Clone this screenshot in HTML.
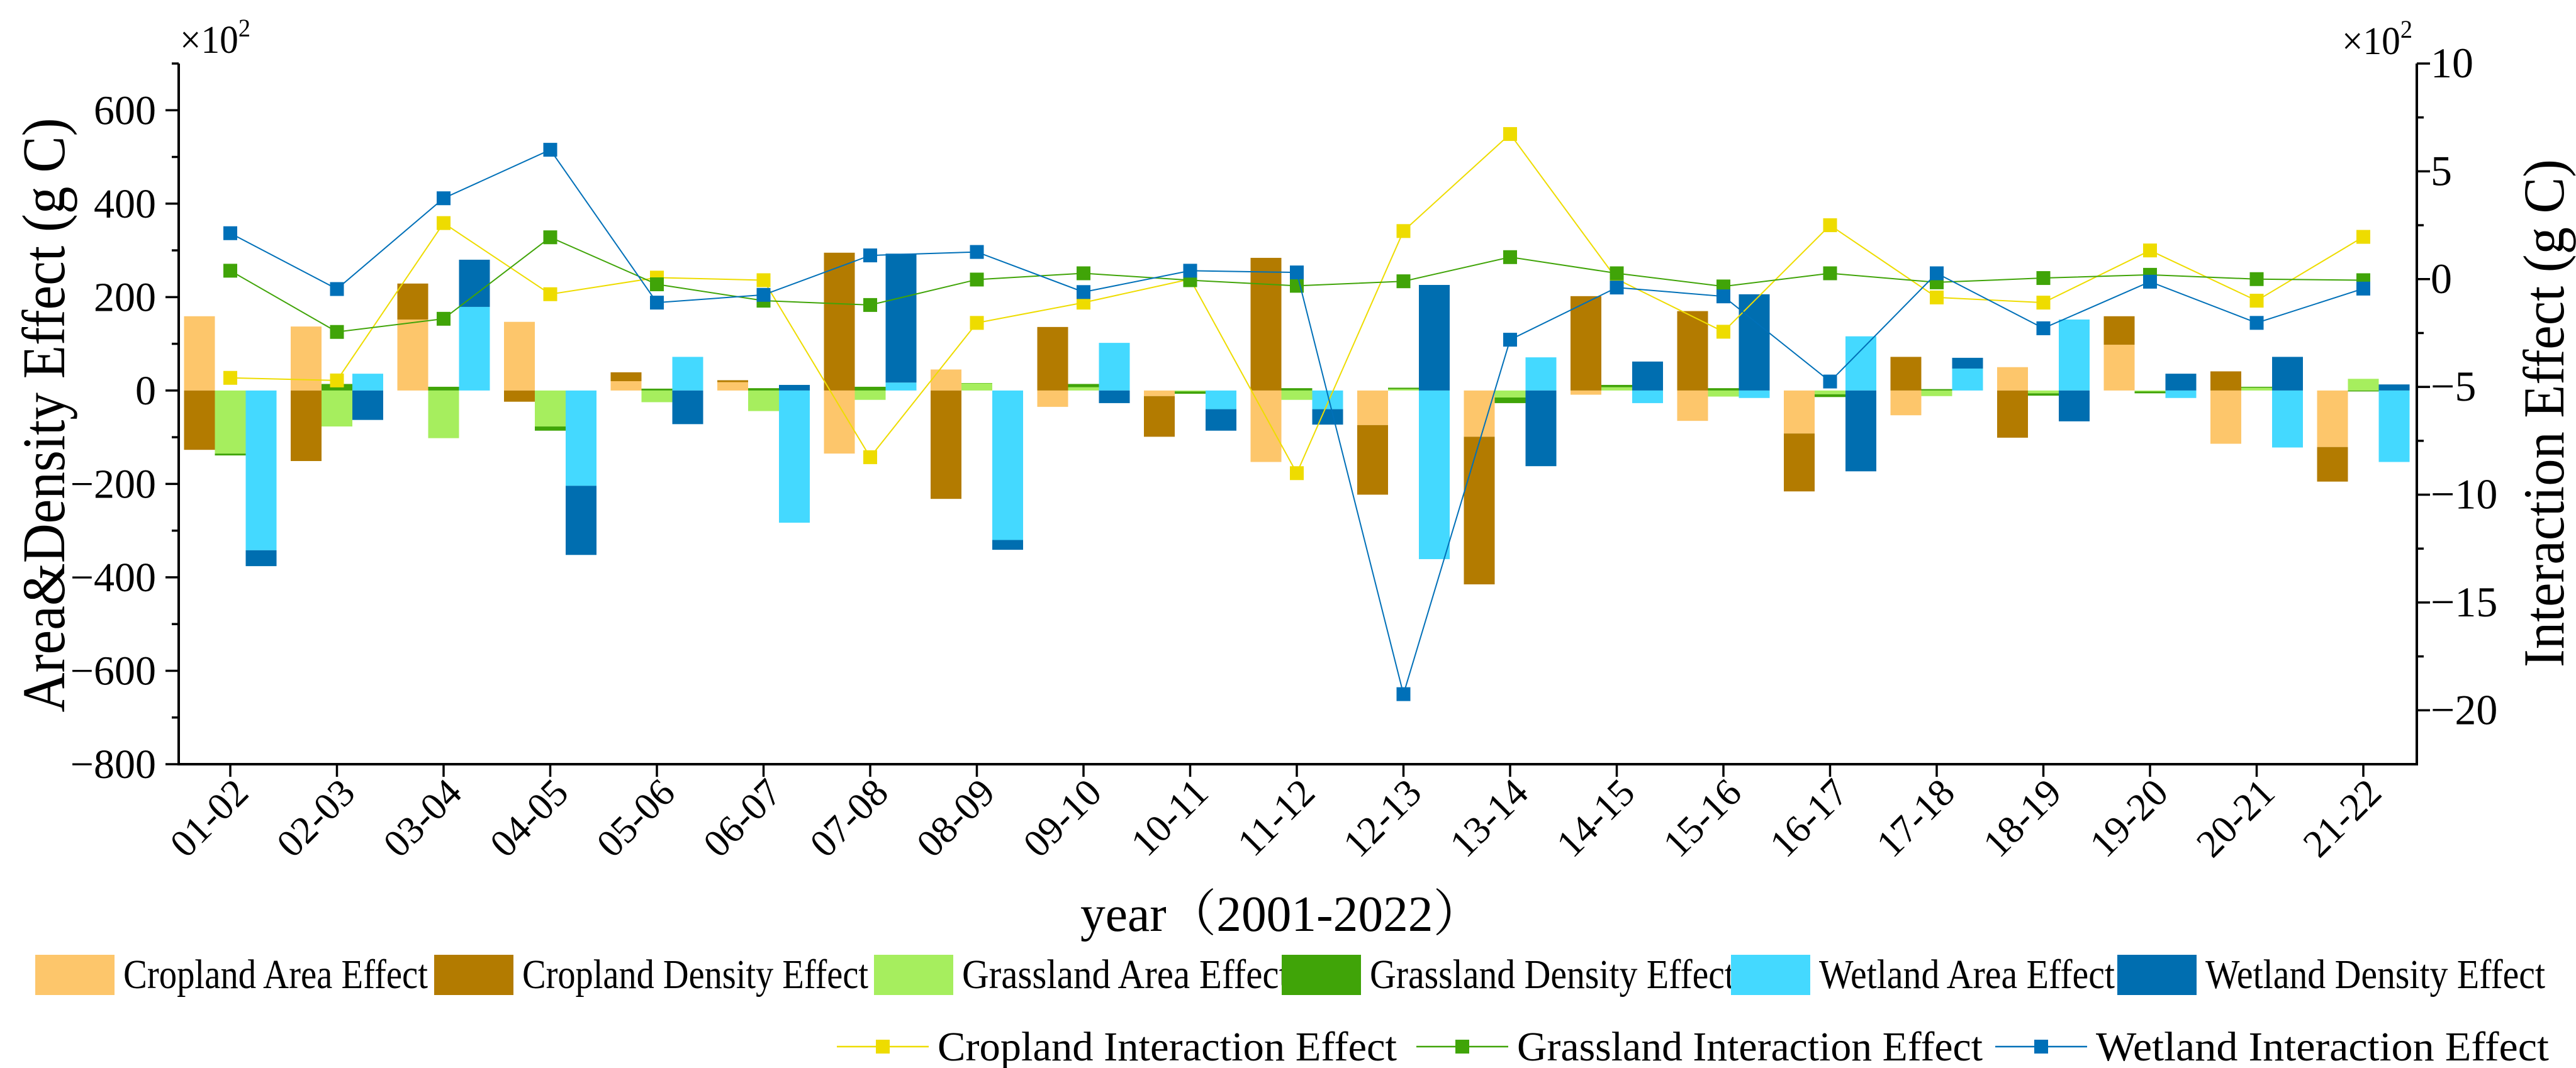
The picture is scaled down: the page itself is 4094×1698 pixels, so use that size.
<!DOCTYPE html>
<html><head><meta charset="utf-8"><style>
html,body{margin:0;padding:0;background:#fff;}
svg{display:block;}
svg text{font-family:"Liberation Serif","Noto Serif CJK SC",serif;}
</style></head><body>
<svg id="chart" width="4094" height="1698" viewBox="0 0 4094 1698" xmlns="http://www.w3.org/2000/svg">
<rect width="4094" height="1698" fill="#fff"/>
<g id="bars"></g>
<g id="lines"></g>
<g id="axes"></g>
<text x="286" y="84" font-size="62" textLength="112" lengthAdjust="spacingAndGlyphs">×10<tspan font-size="40" dy="-26">2</tspan></text>
<text x="3722" y="86" font-size="62" textLength="112" lengthAdjust="spacingAndGlyphs">×10<tspan font-size="40" dy="-26">2</tspan></text>
<text transform="translate(102,660) rotate(-90)" text-anchor="middle" font-size="96" textLength="945" lengthAdjust="spacingAndGlyphs">Area&amp;Density Effect (g C)</text>
<text transform="translate(4074,657) rotate(-90)" text-anchor="middle" font-size="92" textLength="808" lengthAdjust="spacingAndGlyphs">Interaction Effect (g C)</text>
<text x="2037" y="1480" text-anchor="middle" font-size="80" textLength="640" lengthAdjust="spacingAndGlyphs">year（2001-2022）</text>
<g id="legend"></g>
</svg>
<script>
const categories=["01-02","02-03","03-04","04-05","05-06","06-07","07-08","08-09","09-10","10-11","11-12","12-13","13-14","14-15","15-16","16-17","17-18","18-19","19-20","20-21","21-22"];
const cropArea=[159,137,152,147,20,18,-135,45,-35,-12,-153,-74,-99,-9,-65,-92,-53,50,98,-114,-121];
const cropDens=[-127,-151,77,-24,19,4,295,-232,136,-87,284,-149,-316,202,170,-124,72,-101,61,41,-74];
const grassArea=[-135,-77,-102,-77,-25,-44,-20,16,7,-2,-20,3,-15,7,-13,-8,-12,-6,-2,6,25];
const grassDens=[-4,14,8,-9,4,5,8,0,7,-5,5,3,-12,5,5,-6,3,-5,-4,2,-2];
const wetArea=[-342,36,179,-204,72,-283,17,-320,102,-40,-40,-361,71,-27,-16,116,47,152,-16,-122,-153];
const wetDens=[-34,-63,101,-148,-72,12,276,-21,-27,-46,-33,226,-162,62,206,-173,23,-66,36,72,13];
const cropInter=[-4.58,-4.7,2.6,-0.7,0.07,-0.05,-8.26,-2.03,-1.09,0.0,-9.0,2.23,6.73,0.0,-2.44,2.5,-0.85,-1.09,1.33,-1.0,1.96];
const grassInter=[0.39,-2.45,-1.84,1.94,-0.24,-1.0,-1.2,-0.02,0.27,-0.05,-0.31,-0.1,1.02,0.27,-0.34,0.27,-0.15,0.05,0.2,0,-0.05];
const wetInter=[2.13,-0.46,3.75,6.0,-1.09,-0.73,1.1,1.26,-0.6,0.39,0.31,-19.25,-2.81,-0.39,-0.8,-4.75,0.27,-2.28,-0.12,-2.03,-0.44];
const leftTicks=[-800,-600,-400,-200,0,200,400,600];
const rightTicks=[-20,-15,-10,-5,0,5,10];

const NS="http://www.w3.org/2000/svg";
const X0=284,X1=3841,YT=101,YB=1215;
const LMIN=-800,LMAX=700,RMIN=-22.5,RMAX=10;
function xCat(i){return 366+i*169.5;}
function yL(v){return YB-(v-LMIN)/(LMAX-LMIN)*(YB-YT);}
function yR(v){return YB-(v-RMIN)/(RMAX-RMIN)*(YB-YT);}
function mk(tag,attrs,parent){const e=document.createElementNS(NS,tag);for(const k in attrs)e.setAttribute(k,attrs[k]);parent.appendChild(e);return e;}
const C={ca:"#FDC66B",cd:"#B37B00",ga:"#A6EE5E",gd:"#40A408",wa:"#44D9FF",wd:"#006EB0",cl:"#EEDC00",gl:"#40A408",wl:"#0070B8"};

const bars=document.getElementById('bars');
const BW=49;
const groups=[["cropland",cropArea,cropDens,C.ca,C.cd,-49],["grassland",grassArea,grassDens,C.ga,C.gd,0],["wetland",wetArea,wetDens,C.wa,C.wd,49]];
groups.forEach(g=>{
  categories.forEach((c,i)=>{
    let pos=0,neg=0;
    [[g[1][i],g[3],"area"],[g[2][i],g[4],"density"]].forEach(s=>{
      const v=s[0];let a,b;
      if(v>=0){a=pos;b=pos+v;pos=b;}else{a=neg;b=neg+v;neg=b;}
      const y1=yL(Math.max(a,b)),y2=yL(Math.min(a,b));
      const r=mk('rect',{x:xCat(i)+g[5]-BW/2,y:y1,width:BW,height:Math.max(0.5,y2-y1),fill:s[1]},bars);
      
      
    });
  });
});

const lines=document.getElementById('lines');
[["cropland",cropInter,C.cl],["grassland",grassInter,C.gl],["wetland",wetInter,C.wl]].forEach(s=>{
  const pts=s[1].map((v,i)=>xCat(i)+','+yR(v)).join(' ');
  const pl=mk('polyline',{points:pts,fill:'none',stroke:s[2],'stroke-width':2},lines);
  
  
  s[1].forEach((v,i)=>{
    const r=mk('rect',{x:xCat(i)-11,y:yR(v)-11,width:22,height:22,fill:s[2]},lines);
    
    
  });
});

const ax=document.getElementById('axes');
mk('line',{x1:X0,y1:YT,x2:X0,y2:YB+2,stroke:'#000','stroke-width':4},ax);
mk('line',{x1:X1,y1:YT,x2:X1,y2:YB+2,stroke:'#000','stroke-width':4},ax);
mk('line',{x1:X0-2,y1:YB,x2:X1+2,y2:YB,stroke:'#000','stroke-width':4},ax);
for(let v=LMIN;v<=LMAX;v+=100){const major=v%200===0;mk('line',{x1:X0,x2:X0-(major?21:11),y1:yL(v),y2:yL(v),stroke:'#000','stroke-width':3.5},ax);}
leftTicks.forEach(v=>{const t=mk('text',{x:248,y:yL(v)+22,'text-anchor':'end','font-size':66},ax);t.textContent=(v<0?'−':'')+Math.abs(v);

});
for(let v=-20;v<=10;v+=2.5){const major=v%5===0;mk('line',{x1:X1,x2:X1+(major?21:11),y1:yR(v),y2:yR(v),stroke:'#000','stroke-width':3.5},ax);}
rightTicks.forEach(v=>{const t=mk('text',{x:3863,y:yR(v)+22,'font-size':68},ax);t.textContent=(v<0?'−':'')+Math.abs(v);

});
categories.forEach((c,i)=>{mk('line',{x1:xCat(i),x2:xCat(i),y1:YB,y2:YB+20,stroke:'#000','stroke-width':3.5},ax);
const t=mk('text',{transform:'translate('+(xCat(i)+32)+','+1264+') rotate(-45)','text-anchor':'end','font-size':62},ax);t.textContent=c;

});

const lg=document.getElementById('legend');
const barLeg=[["Cropland Area Effect",C.ca,56,484],["Cropland Density Effect",C.cd,690,550],["Grassland Area Effect",C.ga,1389,520],["Grassland Density Effect",C.gd,2037,580],["Wetland Area Effect",C.wa,2751,470],["Wetland Density Effect",C.wd,3365,540]];
barLeg.forEach(l=>{
  const r=mk('rect',{x:l[2],y:1518,width:126,height:64,fill:l[1]},lg);
  
  
  const t=mk('text',{x:l[2]+140,y:1571,'font-size':66,textLength:l[3],lengthAdjust:'spacingAndGlyphs'},lg);t.textContent=l[0];
  
  
});
const lineLeg=[["Cropland  Interaction Effect",C.cl,1330,730],["Grassland Interaction Effect",C.gl,2251,740],["Wetland Interaction Effect",C.wl,3171,720]];
lineLeg.forEach(l=>{
  mk('line',{x1:l[2],x2:l[2]+146,y1:1664,y2:1664,stroke:l[1],'stroke-width':2.5},lg);
  const r=mk('rect',{x:l[2]+62,y:1653,width:22,height:22,fill:l[1]},lg);
  
  
  const t=mk('text',{x:l[2]+160,y:1686,'font-size':66,textLength:l[3],lengthAdjust:'spacingAndGlyphs'},lg);t.textContent=l[0];
  
  
});
</script>
</body></html>
